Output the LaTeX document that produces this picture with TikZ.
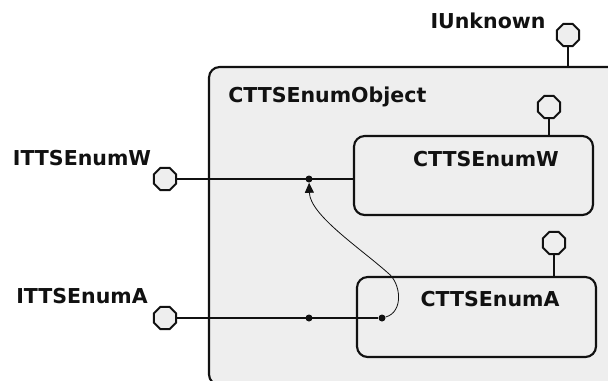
\documentclass[tikz,border=0pt]{standalone}
\usepackage{fontspec}
\setsansfont{DejaVu Sans}
\usepackage{tikz}
\usetikzlibrary{positioning, arrows.meta, shapes.geometric, calc}
\definecolor{boxGray}{RGB}{238, 238, 238}
\definecolor{inkDark}{RGB}{17, 17, 17}

\begin{document}
\begin{tikzpicture}[
        x=0.75pt, y=-0.75pt,
        font=\fontsize{15.4}{18}\selectfont\sffamily\bfseries\color{inkDark},
        comp/.style={rectangle, rounded corners=8pt, draw=inkDark, line width=1.6pt, fill=boxGray,
            inner sep=0pt},
        iface/.style={regular polygon, regular polygon sides=8, draw=inkDark, line width=1.5pt,
            fill=boxGray, minimum size=24*0.75pt, inner sep=0pt},
        wire/.style={line width=1.6pt, inkDark},
        jdot/.style={circle, fill=inkDark, inner sep=0pt, minimum size=7*0.75pt},
        lbl/.style={inner sep=0pt},
        link/.style={-{Triangle[length=10*0.75pt, width=9*0.75pt]}, line width=0.6pt, inkDark}
    ]
    \useasboundingbox (0,0) rectangle (608,380);
    % outer object and the two inner ones
    \node[comp, minimum width=411*0.75pt, minimum height=318*0.75pt] (obj) at (414.5,226) {};
    \node[lbl, anchor=west] (objName) at (228,97) {CTTSEnumObject};
    \node[comp, minimum width=239*0.75pt, minimum height=79*0.75pt] (encW) at (473.5,175.5) {};
    \node[lbl] (encWName) at (486,159) {CTTSEnumW};
    \node[comp, minimum width=239*0.75pt, minimum height=80*0.75pt] (encA) at (476.5,317) {};
    \node[lbl] (encAName) at (490,299) {CTTSEnumA};
    % lollipops
    \node[iface] (unk) at (568,35) {};
    \node[lbl] (unkName) at (488,21) {IUnknown};
    \node[iface] (unkW) at (549,107) {};
    \node[iface] (unkA) at (554,243) {};
    \node[iface] (itfW) at (165,179) {};
    \node[lbl] (itfWName) at (82,158) {ITTSEnumW};
    \node[iface] (itfA) at (165,318) {};
    \node[lbl] (itfAName) at (82,296) {ITTSEnumA};
    \draw[wire] (unk) -- (unk |- obj.north);
    \draw[wire] (unkW) -- (unkW |- encW.north);
    \draw[wire] (unkA) -- (unkA |- encA.north);
    % wires into the object
    \node[jdot] (jW) at (309,179) {};
    \node[jdot] (jA) at (309,318) {};
    \node[jdot] (jA2) at (382,318) {};
    \draw[wire] (itfW) -- (encW.west |- itfW);
    \draw[wire] (itfA) -- (jA2);
    \draw[link] (jA2) .. controls (404,312) and (401,283) .. (388,273)
        .. controls (360,248) and (310,215) .. (jW);
\end{tikzpicture}
\end{document}
